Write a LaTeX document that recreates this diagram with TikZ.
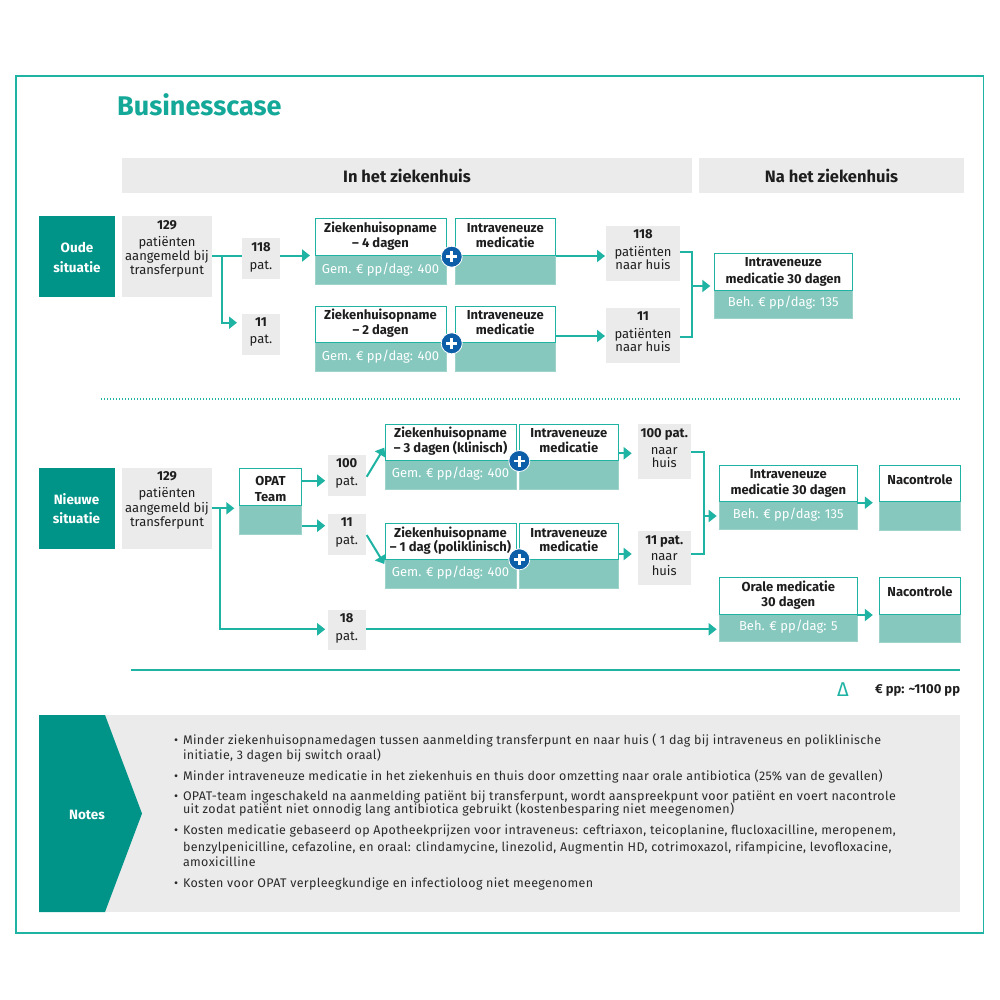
\documentclass[tikz,border=0pt]{standalone}
\usepackage{fontspec}
\setmainfont{Fira Sans}
\newfontfamily\notefont[LetterSpace=2.8]{Fira Sans}
\usetikzlibrary{arrows.meta,fit,calc}
\definecolor{tealln}{HTML}{1FB3A3}
\definecolor{tealdk}{HTML}{009488}
\definecolor{teallt}{HTML}{86C8BE}
\definecolor{greyc}{HTML}{EBEBEB}
\definecolor{plusb}{HTML}{0B5EA7}
\definecolor{txtc}{HTML}{1E1E1E}
\definecolor{notec}{HTML}{2A2A2A}
\definecolor{titlec}{HTML}{14A899}
\tikzset{
  txt/.style={inner sep=0pt, outer sep=0pt, text height=0.69em, text depth=0pt, text=txtc, font=\fontsize{13}{15}\selectfont},
  bt/.style={txt, font=\fontsize{13}{15}\selectfont\bfseries},
  wt/.style={txt, text=white},
  wbt/.style={txt, text=white, font=\fontsize{13.5}{15}\selectfont\bfseries},
  hdr/.style={txt, font=\fontsize{16.5}{18}\selectfont\bfseries},
  nt/.style={txt, anchor=west, text=notec, font=\notefont\fontsize{12.5}{14}\selectfont},
  gbox/.style={fill=greyc, inner sep=0pt, outer sep=0pt},
  dbox/.style={fill=tealdk, inner sep=0pt, outer sep=0pt},
  whole/.style={fill=teallt, draw=teallt!80!white, line width=0.8pt, inner sep=0pt, outer sep=0pt},
  topb/.style={fill=white, draw=tealln, line width=1pt, inner sep=0pt, outer sep=0pt},
  ln/.style={draw=tealln, line width=2pt},
  arr/.style={ln, -{Triangle[length=8pt,width=12pt]}},
  plusc/.style={circle, fill=plusb, draw=white, line width=0.8pt, minimum size=21pt, inner sep=0pt},
}
\newcommand\T[5][txt]{\node[#1] (#2) at (#3,#4) {#5};}
\newcommand\TB[6]{\node[whole, fit={(#2,#3) (#4,#6)}] (#1) {};\node[topb, fit={(#2,#3) (#4,#5)}] (#1t) {};}
\newcommand\PL[3]{\node[plusc] (#1) at (#2,#3) {};
  \draw[white, line width=2.6pt] ($(#1)+(-5.5,0)$) -- ($(#1)+(5.5,0)$) ($(#1)+(0,-5.5)$) -- ($(#1)+(0,5.5)$);}
\begin{document}
\begin{tikzpicture}[x=1pt,y=-1pt]
\useasboundingbox (0,0) rectangle (1000,1000);
\fill[white] (0,0) rectangle (1000,1000);
\draw[tealln, line width=1.2pt] (16,76) rectangle (983.3,933);
\node[anchor=base west, inner sep=0pt, text=titlec, font=\fontsize{27}{30}\selectfont\bfseries] (title) at (117,115.5) {Businesscase};
% headers
\node[gbox, fit={(122,158.3) (692,193.3)}] (hin) {};
\T[hdr]{hint}{407}{179}{In het ziekenhuis}
\node[gbox, fit={(699,158.3) (964,193.3)}] (hna) {};
\T[hdr]{hnat}{831.5}{179}{Na het ziekenhuis}
% ---------- row 1
\node[dbox, fit={(39,216) (115,297)}] (o1) {};
\T[wbt]{o1a}{77}{249}{Oude}
\T[wbt]{o1b}{77}{269}{situatie}
\node[gbox, fit={(122,216) (212,297)}] (g1) {};
\T[bt]{g1a}{167}{226}{129}
\T{g1b}{167}{242.7}{patiënten}
\T{g1c}{167}{257}{aangemeld bij}
\T{g1d}{167}{270.7}{transferpunt}
\node[gbox, fit={(242,238) (280,279)}] (p118) {};
\T[bt]{p118a}{261}{248}{118}
\T{p118b}{261}{265.7}{pat.}
\node[gbox, fit={(242,314) (280,355)}] (p11) {};
\T[bt]{p11a}{261}{323}{11}
\T{p11b}{261}{340}{pat.}
\TB{z1}{315}{219}{446}{255.7}{284}
\T[bt]{z1a}{380.5}{229.3}{Ziekenhuisopname}
\T[bt]{z1b}{380.5}{244.3}{– 4 dagen}
\T[wt]{z1c}{380.5}{270}{Gem. € pp/dag: 400}
\TB{iv1}{455}{219}{555.7}{255.7}{284}
\T[bt]{iv1a}{505.3}{229}{Intraveneuze}
\T[bt]{iv1b}{505.3}{244}{medicatie}
\PL{pl1}{451.7}{256.7}
\node[gbox, fit={(606,226) (680,280.7)}] (h118) {};
\T[bt]{h118a}{643}{235}{118}
\T{h118b}{643}{252.7}{patiënten}
\T{h118c}{643}{266}{naar huis}
\TB{z2}{315}{306}{446}{342.7}{371.7}
\T[bt]{z2a}{380.5}{316}{Ziekenhuisopname}
\T[bt]{z2b}{380.5}{331}{– 2 dagen}
\T[wt]{z2c}{380.5}{356.7}{Gem. € pp/dag: 400}
\TB{iv2}{455}{306}{555.7}{342.7}{371.7}
\T[bt]{iv2a}{505.3}{316}{Intraveneuze}
\T[bt]{iv2b}{505.3}{331}{medicatie}
\PL{pl2}{451.7}{343.3}
\node[gbox, fit={(606,308.3) (680,362.7)}] (h11) {};
\T[bt]{h11a}{643}{317.3}{11}
\T{h11b}{643}{335}{patiënten}
\T{h11c}{643}{348.3}{naar huis}
\TB{ivr}{714.3}{253.3}{852.3}{290.7}{318.3}
\T[bt]{ivra}{783.3}{263.3}{Intraveneuze}
\T[bt]{ivrb}{783.3}{280}{medicatie 30 dagen}
\T[wt]{ivrc}{783.3}{303.3}{Beh. € pp/dag: 135}
% connectors row 1
\coordinate (j1) at (222,255.5);
\coordinate (l1b) at (222,322.7);
\coordinate (l1c) at (600,256);
\coordinate (l1d) at (600,336);
\coordinate (b1t) at (691.7,251.7);
\coordinate (b1b) at (691.7,336.7);
\coordinate (b1) at (691.7,286);
\draw[ln] (g1.east |- j1) -- (p118.west |- j1);
\draw[arr, shorten >=5pt] (j1) -- (l1b) -- (p11.west |- l1b);
\draw[arr, shorten >=5pt] (p118.east |- j1) -- (z1.west |- j1);
\draw[arr, shorten >=1pt] (iv1.east |- l1c) -- (h118.west |- l1c);
\draw[arr, shorten >=1pt] (iv2.east |- l1d) -- (h11.west |- l1d);
\draw[ln] (h118.east |- b1t) -- (b1t) -- (b1b) -- (h11.east |- b1b);
\draw[arr, shorten >=4pt] (b1) -- (ivr.west |- b1);
% dotted separator
\coordinate (d1) at (101,399);
\coordinate (d2) at (960,399);
\draw[tealln, line width=1.5pt, dash pattern=on 1.4pt off 1.6pt] (d1) -- (d2);
% ---------- row 2
\node[dbox, fit={(38.5,468.3) (114.5,549)}] (n2) {};
\T[wbt]{n2a}{76.5}{500.7}{Nieuwe}
\T[wbt]{n2b}{76.5}{520}{situatie}
\node[gbox, fit={(122.3,468.3) (211.7,549)}] (g2) {};
\T[bt]{g2a}{167}{477.3}{129}
\T{g2b}{167}{494.3}{patiënten}
\T{g2c}{167}{509}{aangemeld bij}
\T{g2d}{167}{523.3}{transferpunt}
\TB{opat}{239.3}{468.3}{301.7}{505}{534}
\T[bt]{opata}{270.5}{481.7}{OPAT}
\T[bt]{opatb}{270.5}{497.7}{Team}
\node[gbox, fit={(327.7,455) (365.7,495.7)}] (p100) {};
\T[bt]{p100a}{346.7}{464}{100}
\T{p100b}{346.7}{481.7}{pat.}
\node[gbox, fit={(327.7,514.3) (365.7,555)}] (p11n) {};
\T[bt]{p11na}{346.7}{523.3}{11}
\T{p11nb}{346.7}{540.7}{pat.}
\node[gbox, fit={(327.7,610) (365.7,650)}] (p18) {};
\T[bt]{p18a}{346.7}{619}{18}
\T{p18b}{346.7}{636.7}{pat.}
\TB{z3}{385}{424}{516}{460.7}{489.3}
\T[bt]{z3a}{450.5}{434}{Ziekenhuisopname}
\T[bt]{z3b}{450.5}{449.3}{– 3 dagen (klinisch)}
\T[wt]{z3c}{450.5}{474}{Gem. € pp/dag: 400}
\TB{iv3}{519.3}{424}{618.3}{460.7}{489.3}
\T[bt]{iv3a}{568.8}{434}{Intraveneuze}
\T[bt]{iv3b}{568.8}{449.3}{medicatie}
\PL{pl3}{519.3}{461}
\node[gbox, fit={(637.7,424) (690.7,479)}] (h100) {};
\T[bt]{h100a}{664.2}{434}{100 pat.}
\T{h100b}{664.2}{450.7}{naar}
\T{h100c}{664.2}{464}{huis}
\TB{z4}{385}{523.3}{516}{559.3}{588.3}
\T[bt]{z4a}{450.5}{534}{Ziekenhuisopname}
\T[bt]{z4b}{450.5}{548.3}{– 1 dag (poliklinisch)}
\T[wt]{z4c}{450.5}{573.3}{Gem. € pp/dag: 400}
\TB{iv4}{519.3}{523.3}{618.3}{559.3}{588.3}
\T[bt]{iv4a}{568.8}{534}{Intraveneuze}
\T[bt]{iv4b}{568.8}{548.3}{medicatie}
\PL{pl4}{519.3}{559.3}
\node[gbox, fit={(637.7,530.7) (690.7,585)}] (h11n) {};
\T[bt]{h11na}{664.2}{540.7}{11 pat.}
\T{h11nb}{664.2}{556.7}{naar}
\T{h11nc}{664.2}{571.7}{huis}
\TB{ivr2}{719.3}{465}{857.3}{501.7}{529.3}
\T[bt]{ivr2a}{788.3}{475}{Intraveneuze}
\T[bt]{ivr2b}{788.3}{490.7}{medicatie 30 dagen}
\T[wt]{ivr2c}{788.3}{515}{Beh. € pp/dag: 135}
\TB{nac1}{879.3}{465}{960.7}{501.7}{530}
\T[bt]{nac1a}{920}{480.7}{Nacontrole}
\TB{oral}{719.3}{577.7}{857.3}{614}{641.7}
\T[bt]{orala}{788.3}{587.7}{Orale medicatie}
\T[bt]{oralb}{788.3}{602.7}{30 dagen}
\T[wt]{oralc}{788.3}{626.7}{Beh. € pp/dag: 5}
\TB{nac2}{879.3}{577.7}{960.7}{614}{642.7}
\T[bt]{nac2a}{920}{592.7}{Nacontrole}
% connectors row 2
\coordinate (j2) at (220,508.3);
\coordinate (j2b) at (220,629.3);
\coordinate (o1l) at (310,480.7);
\coordinate (o2l) at (310,525.7);
\coordinate (c3) at (625,453.3);
\coordinate (c4) at (625,554);
\coordinate (b2t) at (704,451.7);
\coordinate (b2b) at (704,554);
\coordinate (b2) at (704,516);
\coordinate (e1) at (865,502.7);
\coordinate (e2) at (865,615);
\draw[arr, shorten >=5pt] (g2.east |- j2) -- (opat.west |- j2);
\draw[arr, shorten >=2.5pt] (j2) -- (j2b) -- (p18.west |- j2b);
\draw[arr, shorten >=2.5pt] (opat.east |- o1l) -- (p100.west |- o1l);
\draw[arr, shorten >=2.5pt] (opat.east |- o2l) -- (p11n.west |- o2l);
\draw[arr] ($(p100.east)+(1,1.4)$) -- ($(z3.west)+(-0.7,-9)$);
\draw[arr] ($(p11n.east)+(1,0.4)$) -- ($(z4.west)+(-0.7,8.2)$);
\draw[arr, shorten >=6pt] (iv3.east |- c3) -- (h100.west |- c3);
\draw[arr, shorten >=6pt] (iv4.east |- c4) -- (h11n.west |- c4);
\draw[ln] (h100.east |- b2t) -- (b2t) -- (b2b) -- (h11n.east |- b2b);
\draw[arr, shorten >=2.6pt] (b2) -- (ivr2.west |- b2);
\draw[arr, shorten >=6.5pt] (ivr2.east |- e1) -- (nac1.west |- e1);
\draw[arr, shorten >=2.6pt] (p18.east |- j2b) -- (oral.west |- j2b);
\draw[arr, shorten >=6.5pt] (oral.east |- e2) -- (nac2.west |- e2);
% total line
\coordinate (s1) at (131,670);
\coordinate (s2) at (960,670);
\draw[tealln, line width=2pt] (s1) -- (s2);
\node[inner sep=0pt, text=tealln, font=\fontsize{20}{22}\selectfont\mdseries] (delta) at (843,689.5) {Δ};
\node[bt, anchor=east] (eur) at (960,690) {€ pp: \textasciitilde1100 pp};
% notes
\node[gbox, fit={(39,715) (960,912)}] (notes) {};
\fill[tealdk] (39,715) -- (105,715) -- (142,813.5) -- (105,912) -- (39,912) -- cycle;
\T[wbt]{notesl}{87}{816}{Notes}
\node[nt] (bu1) at (174,740.7) {•};
\node[nt] (n1a) at (183,740.7) {Minder ziekenhuisopnamedagen tussen aanmelding transferpunt en naar huis ( 1 dag bij intraveneus en poliklinische};
\node[nt] (n1b) at (183,756) {initiatie, 3 dagen bij switch oraal)};
\node[nt] (bu2) at (174,777) {•};
\node[nt] (n2l) at (183,777) {Minder intraveneuze medicatie in het ziekenhuis en thuis door omzetting naar orale antibiotica (25\% van de gevallen)};
\node[nt] (bu3) at (174,797) {•};
\node[nt] (n3a) at (183,797) {OPAT-team ingeschakeld na aanmelding patiënt bij transferpunt, wordt aanspreekpunt voor patiënt en voert nacontrole};
\node[nt] (n3b) at (183,810.5) {uit zodat patiënt niet onnodig lang antibiotica gebruikt (kostenbesparing niet meegenomen)};
\node[nt] (bu4) at (174,831) {•};
\node[nt] (n4a) at (183,831) {Kosten medicatie gebaseerd op Apotheekprijzen voor intraveneus: ceftriaxon, teicoplanine, flucloxacilline, meropenem,};
\node[nt] (n4b) at (183,848) {benzylpenicilline, cefazoline, en oraal: clindamycine, linezolid, Augmentin HD, cotrimoxazol, rifampicine, levofloxacine,};
\node[nt] (n4c) at (183,863) {amoxicilline};
\node[nt] (bu5) at (174,884) {•};
\node[nt] (n5l) at (183,884) {Kosten voor OPAT verpleegkundige en infectioloog niet meegenomen};
\end{tikzpicture}
\end{document}
